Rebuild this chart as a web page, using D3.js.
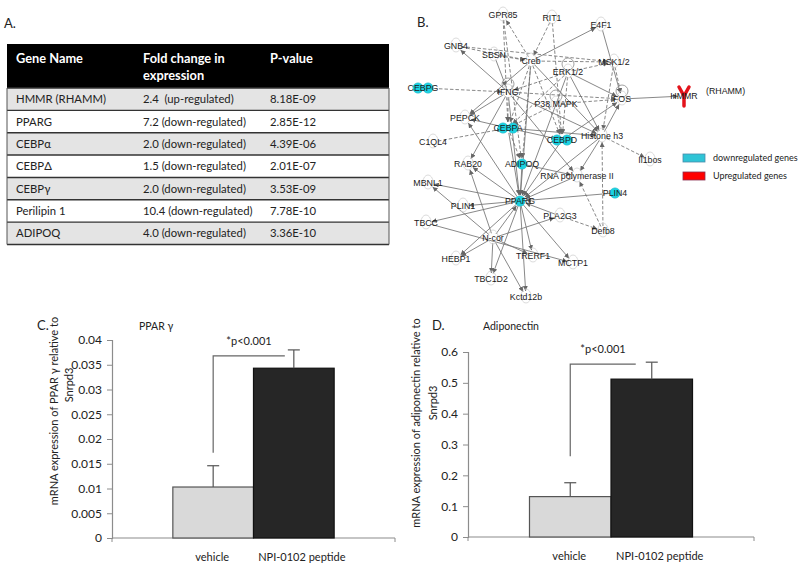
<!DOCTYPE html>
<html>
<head>
<meta charset="utf-8">
<script src="https://cdn.jsdelivr.net/npm/d3@7"></script>
<style>
  html, body { margin: 0; padding: 0; background: #fff; }
  svg { display: block; }
</style>
</head>
<body>
<svg id="fig" width="800" height="567"></svg>
<script>
// ---------------- DATA ----------------
// Panel A table
const tableHeaders = ["Gene Name", "Fold change in|expression", "P-value"];
const geneNames = ["HMMR (RHAMM)", "PPARG", "CEBPα", "CEBPΔ", "CEBPγ", "Perilipin 1", "ADIPOQ"];
const foldChanges = ["2.4  (up-regulated)", "7.2 (down-regulated)", "2.0 (down-regulated)", "1.5 (down-regulated)",
                     "2.0 (down-regulated)", "10.4 (down-regulated)", "4.0 (down-regulated)"];
const pValues = ["8.18E-09", "2.85E-12", "4.39E-06", "2.01E-07", "3.53E-09", "7.78E-10", "3.36E-10"];

// Panel B network
const nodeNames = ["GPR85", "RIT1", "E4F1", "GNB4", "SBSN", "Creb", "MSK1/2", "ERK1/2", "CEBPG", "IFNG",
  "FOS", "HMMR", "P38 MAPK", "PEPCK", "CEBPA", "CEBPD", "Histone h3", "C1QL4", "RAB20", "ADIPOQ",
  "Il1bos", "RNA polymerase II", "MBNL1", "PLIN4", "PPARG", "PLIN1", "TBCC", "PLA2G3", "Defb8", "N-cor",
  "HEBP1", "TRERF1", "MCTP1", "TBC1D2", "Kctd12b"];
const nodeStatus = ["", "", "", "", "", "", "", "", "down", "",
  "", "up", "", "", "down", "down", "", "", "", "down",
  "", "", "", "down", "down", "", "", "", "", "",
  "", "", "", "", ""];
// layout grid (network-layout units)
const nodeLayoutX = [103, 152, 201, 56, 94, 131, 214, 168, 23, 108, 222, 284, 156, 65, 108, 162, 202, 33, 68, 122,
  250, 177, 28, 215, 120, 63, 26, 160, 203, 93, 56, 133, 173, 91, 126];
const nodeLayoutY = [15, 18, 25, 46, 55, 61, 62, 72, 88, 92, 99, 96, 104, 118, 128, 140, 136, 142, 164, 164,
  160, 176, 183, 193, 201, 206, 223, 216, 231, 238, 259, 256, 263, 279, 297];
const selfLoops = ["ERK1/2", "FOS", "P38 MAPK", "IFNG"];
// [source, target, relation: s = direct (solid), d = indirect (dashed)]
const edges = [
  ["Creb","GPR85","d"],["RIT1","Creb","d"],["RIT1","CEBPD","d"],["GPR85","CEBPA","d"],["GPR85","ADIPOQ","d"],
  ["IFNG","GNB4","s"],["GNB4","Creb","d"],["GNB4","MSK1/2","d"],["SBSN","IFNG","s"],["SBSN","Creb","d"],
  ["Creb","E4F1","s"],["Creb","MSK1/2","d"],["Creb","PEPCK","s"],["Creb","CEBPA","d"],["Creb","ADIPOQ","d"],
  ["Creb","Histone h3","s"],["Creb","CEBPD","d"],["Creb","PPARG","s"],["E4F1","FOS","s"],["MSK1/2","FOS","d"],
  ["MSK1/2","Histone h3","d"],["ERK1/2","MSK1/2","d"],["ERK1/2","FOS","s"],["ERK1/2","Histone h3","s"],
  ["ERK1/2","CEBPD","d"],["ERK1/2","CEBPA","d"],["ERK1/2","IFNG","d"],["ERK1/2","PPARG","s"],
  ["CEBPG","IFNG","d"],["IFNG","Histone h3","s"],["IFNG","FOS","d"],["IFNG","PEPCK","s"],
  ["IFNG","RNA polymerase II","s"],["IFNG","PPARG","s"],["IFNG","RAB20","s"],["IFNG","CEBPA","d"],
  ["P38 MAPK","FOS","d"],["P38 MAPK","CEBPA","d"],["P38 MAPK","CEBPD","d"],["FOS","HMMR","s"],
  ["Histone h3","FOS","s"],["CEBPD","FOS","s"],["CEBPA","CEBPD","s"],["CEBPA","Histone h3","s"],
  ["CEBPA","PEPCK","s"],["C1QL4","CEBPA","d"],["CEBPA","PPARG","s"],["CEBPA","ADIPOQ","d"],
  ["CEBPD","PPARG","s"],["Histone h3","Il1bos","d"],["Histone h3","PPARG","s"],["Defb8","Histone h3","d"],
  ["Defb8","RNA polymerase II","d"],["PLA2G3","Defb8","d"],["ADIPOQ","RNA polymerase II","s"],
  ["ADIPOQ","PPARG","s"],["RNA polymerase II","PPARG","s"],["PPARG","RAB20","s"],["PPARG","MBNL1","s"],
  ["PPARG","PLIN1","s"],["PPARG","TBCC","s"],["PLIN4","PPARG","s"],["PLA2G3","PPARG","s"],["N-cor","PPARG","s"],
  ["PPARG","HEBP1","s"],["PPARG","TRERF1","s"],["PPARG","MCTP1","s"],["PPARG","TBC1D2","s"],
  ["PPARG","Kctd12b","s"],["PPARG","PEPCK","s"],["N-cor","RAB20","s"],["N-cor","MBNL1","s"],
  ["TBCC","MCTP1","s"],["N-cor","HEBP1","s"],["N-cor","TBC1D2","s"],["N-cor","TRERF1","s"],
  ["N-cor","Kctd12b","s"],["N-cor","PLA2G3","s"],["Histone h3","RNA polymerase II","s"]
];
const legendLabels = ["downregulated genes", "Upregulated genes"];
const legendKeys = ["down", "up"];

// Panels C and D
const groups = ["vehicle", "NPI-0102 peptide"];
const pparValues = [0.0103, 0.0343];
const pparErrors = [0.0043, 0.0037];
const pparTicks = [0, 0.005, 0.01, 0.015, 0.02, 0.025, 0.03, 0.035, 0.04];
const pparBracket = [0.0172, 0.0368];
const adipoValues = [0.131, 0.512];
const adipoErrors = [0.045, 0.055];
const adipoTicks = [0, 0.1, 0.2, 0.3, 0.4, 0.5, 0.6];
const adipoBracket = [0.262, 0.561];
const significance = "*p<0.001";

// ---------------- DRAW ----------------
const svg = d3.select("#fig");
svg.append("rect").attr("width", 800).attr("height", 567).attr("fill", "#fff");
const chartFont = "Lato, 'Open Sans', sans-serif";
const netFont = "'Liberation Sans', Arial, sans-serif";

// ===== Panel A =====
(function panelA() {
  const g = svg.append("g");
  g.append("text").attr("x", 4).attr("y", 28).text("A.")
    .attr("font-family", chartFont).attr("font-size", 13).attr("fill", "#222");
  const x0 = 7, x1 = 389, headTop = 44, headBot = 88;
  const rowY = d3.scaleLinear().domain([0, geneNames.length]).range([headBot, 244.5]);
  const colX = d3.scaleOrdinal().domain([0, 1, 2]).range([16, 143, 270]);
  g.append("rect").attr("x", x0).attr("y", headTop).attr("width", x1 - x0).attr("height", headBot - headTop)
    .attr("fill", "#000");
  tableHeaders.forEach((h, i) => {
    h.split("|").forEach((line, j) => {
      g.append("text").attr("x", colX(i)).attr("y", 63 + j * 17).text(line)
        .attr("font-family", chartFont).attr("font-weight", "bold").attr("font-size", 12.8).attr("fill", "#fff");
    });
  });
  const rows = geneNames.map((n, i) => [n, foldChanges[i], pValues[i]]);
  const rg = g.selectAll("g.row").data(rows).join("g").attr("class", "row");
  rg.append("rect").attr("x", x0).attr("y", (d, i) => rowY(i)).attr("width", x1 - x0)
    .attr("height", (d, i) => rowY(i + 1) - rowY(i))
    .attr("fill", (d, i) => i % 2 === 0 ? "#e4e4e4" : "#fff");
  rg.each(function (d, i) {
    d3.select(this).selectAll("text").data(d).join("text")
      .attr("x", (t, k) => colX(k)).attr("y", (rowY(i) + rowY(i + 1)) / 2 + 4)
      .text(t => t).attr("font-family", chartFont).attr("font-size", 11.3).attr("fill", "#222")
      .attr("xml:space", "preserve").style("white-space", "pre");
  });
  d3.range(geneNames.length + 1).forEach(i => {
    g.append("line").attr("x1", x0).attr("x2", x1).attr("y1", rowY(i)).attr("y2", rowY(i))
      .attr("stroke", "#333").attr("stroke-width", 1.4);
  });
  [x0, x1].forEach(x => g.append("line").attr("x1", x).attr("x2", x).attr("y1", headBot).attr("y2", rowY(geneNames.length))
    .attr("stroke", "#555").attr("stroke-width", 1));
})();

// ===== Panel B =====
(function panelB() {
  const g = svg.append("g");
  g.append("text").attr("x", 417).attr("y", 27).text("B.")
    .attr("font-family", chartFont).attr("font-size", 13).attr("fill", "#222");
  const sx = d3.scaleLinear().domain([0, 340]).range([400, 740]);
  const sy = d3.scaleLinear().domain([0, 300]).range([0, 300]);
  const pos = {};
  nodeNames.forEach((n, i) => pos[n] = { x: sx(nodeLayoutX[i]), y: sy(nodeLayoutY[i]), status: nodeStatus[i] });
  const colors = { down: "#1ad2e2", up: "#e3131b" };

  const defs = svg.append("defs");
  defs.append("marker").attr("id", "arr").attr("viewBox", "0 -4 8 8").attr("refX", 8).attr("refY", 0)
    .attr("markerWidth", 5).attr("markerHeight", 5).attr("markerUnits", "userSpaceOnUse").attr("orient", "auto")
    .append("path").attr("d", "M0,-4L8,0L0,4Z").attr("fill", "#666");

  const eg = g.append("g");
  edges.forEach(([s, t, type]) => {
    const a = pos[s], b = pos[t];
    const dx = b.x - a.x, dy = b.y - a.y, L = Math.hypot(dx, dy);
    const ux = dx / L, uy = dy / L;
    const s0 = 5, s1 = 6;
    eg.append("line")
      .attr("x1", a.x + ux * s0).attr("y1", a.y + uy * s0)
      .attr("x2", b.x - ux * s1).attr("y2", b.y - uy * s1)
      .attr("stroke", "#737373").attr("stroke-width", 0.85)
      .attr("stroke-dasharray", type === "d" ? "3.5,2" : null)
      .attr("marker-end", "url(#arr)");
  });
  selfLoops.forEach(n => {
    const p = pos[n];
    eg.append("circle").attr("cx", p.x).attr("cy", p.y - 8).attr("r", 6)
      .attr("fill", "none").attr("stroke", "#8a8a8a").attr("stroke-width", 0.8);
  });

  const ng = g.append("g");
  nodeNames.forEach(n => {
    const p = pos[n];
    if (p.status === "down") {
      const dimer = ["CEBPG", "CEBPA", "CEBPD"].includes(n);
      const offs = dimer ? [-5, 5] : [0];
      offs.forEach(o => ng.append("circle").attr("cx", p.x + o).attr("cy", p.y).attr("r", 5.2)
        .attr("fill", colors.down).attr("stroke", "#3bb6c4").attr("stroke-width", 0.5));
    } else if (p.status === "up") {
      ng.append("path")
        .attr("d", `M${p.x - 5},${p.y - 9} L${p.x},${p.y} L${p.x + 5},${p.y - 9} M${p.x},${p.y} L${p.x},${p.y + 10}`)
        .attr("fill", "none").attr("stroke", colors.up).attr("stroke-width", 3.5).attr("stroke-linecap", "round");
    } else {
      ng.append("ellipse").attr("cx", p.x).attr("cy", p.y - 1).attr("rx", 5).attr("ry", 7)
        .attr("fill", "none").attr("stroke", "#d0d0d0").attr("stroke-width", 0.8);
    }
  });
  nodeNames.forEach(n => {
    const p = pos[n];
    g.append("text").attr("x", p.x).attr("y", p.y + 3.2).attr("text-anchor", "middle").text(n)
      .attr("font-family", netFont).attr("font-size", 8.8).attr("fill", "#1a1a1a");
  });
  g.append("text").attr("x", 706).attr("y", 94).text("(RHAMM)")
    .attr("font-family", netFont).attr("font-size", 8.8).attr("fill", "#1a1a1a");

  legendLabels.forEach((lab, i) => {
    const y = 154 + i * 18;
    g.append("rect").attr("x", 683).attr("y", y).attr("width", 22).attr("height", 8)
      .attr("fill", legendKeys[i] === "down" ? "#2fc4d6" : "#ff0000")
      .attr("stroke", legendKeys[i] === "down" ? "#4a8caa" : "#8a3050").attr("stroke-width", 0.8);
    g.append("text").attr("x", 713).attr("y", y + 7).text(lab)
      .attr("font-family", chartFont).attr("font-size", 9).attr("fill", "#222");
  });
})();

// ===== Bar charts =====
function barChart(opts) {
  const g = svg.append("g");
  const y = d3.scaleLinear().domain([0, opts.ticks[opts.ticks.length - 1]]).range([opts.y0, opts.y1]);
  const w = opts.xr - opts.xl;
  const x = d3.scaleBand().domain(groups).range([opts.xl + w * 0.215, opts.xr - w * 0.215]).padding(0);
  const ya = d3.axisLeft(y).tickValues(opts.ticks).tickSize(5).tickPadding(5)
    .tickFormat(d => String(+d.toFixed(4)));
  const yg = g.append("g").attr("transform", `translate(${opts.xl},0)`).call(ya);
  yg.select(".domain").attr("stroke", "#8c8c8c").attr("stroke-width", 1.2);
  yg.selectAll(".tick line").attr("stroke", "#8c8c8c");
  yg.selectAll(".tick text").attr("font-family", chartFont).attr("font-size", 12).attr("fill", "#222");
  g.append("line").attr("x1", opts.xl).attr("x2", opts.xr).attr("y1", opts.y0).attr("y2", opts.y0)
    .attr("stroke", "#8c8c8c").attr("stroke-width", 1.2);
  [opts.xl, opts.xr].forEach(xx => g.append("line").attr("x1", xx).attr("x2", xx)
    .attr("y1", opts.y0).attr("y2", opts.y0 + 4).attr("stroke", "#8c8c8c"));
  const fills = ["#d9d9d9", "#262626"];
  const strokes = ["#555", "#111"];
  g.selectAll("rect.bar").data(opts.values).join("rect").attr("class", "bar")
    .attr("x", (d, i) => x(groups[i])).attr("width", x.bandwidth())
    .attr("y", d => y(d)).attr("height", d => opts.y0 - y(d))
    .attr("fill", (d, i) => fills[i]).attr("stroke", (d, i) => strokes[i]).attr("stroke-width", 1.2);
  opts.values.forEach((v, i) => {
    const cx = x(groups[i]) + x.bandwidth() / 2;
    const top = y(v + opts.errors[i]);
    g.append("line").attr("x1", cx).attr("x2", cx).attr("y1", y(v)).attr("y2", top)
      .attr("stroke", "#555").attr("stroke-width", 1.2);
    g.append("line").attr("x1", cx - 6).attr("x2", cx + 6).attr("y1", top).attr("y2", top)
      .attr("stroke", "#555").attr("stroke-width", 1.2);
  });
  const bx = x(groups[0]) + x.bandwidth() / 2;
  const bx2 = x(groups[1]) + x.bandwidth() / 2 - opts.bracketInset;
  g.append("path")
    .attr("d", `M${bx},${y(opts.bracket[0])} L${bx},${y(opts.bracket[1])} L${bx2},${y(opts.bracket[1])}`)
    .attr("fill", "none").attr("stroke", "#666").attr("stroke-width", 1.2);
  g.append("text").attr("x", (bx + bx2) / 2 + opts.sigDx).attr("y", y(opts.bracket[1]) - 11)
    .attr("text-anchor", "middle").text(significance)
    .attr("font-family", chartFont).attr("font-size", 11).attr("fill", "#222");
  groups.forEach((gr, i) => {
    g.append("text").attr("x", x(gr) + x.bandwidth() / 2 + (i === 1 ? 8 : -1)).attr("y", opts.y0 + 23)
      .attr("text-anchor", "middle").text(gr)
      .attr("font-family", chartFont).attr("font-size", 11).attr("fill", "#222");
  });
  g.append("text").attr("x", opts.letterX).attr("y", 330).text(opts.letter)
    .attr("font-family", chartFont).attr("font-size", 13).attr("fill", "#222");
  g.append("text").attr("x", opts.titleX).attr("y", 330).text(opts.title)
    .attr("font-family", chartFont).attr("font-size", 10.5).attr("fill", "#222");
  opts.ytitle.forEach((t, k) => {
    g.append("text").attr("transform", `translate(${opts.ytX[k]},${opts.ytY[k]}) rotate(-90)`)
      .attr("text-anchor", "middle").attr("dominant-baseline", "central").text(t)
      .attr("font-family", chartFont).attr("font-size", 11).attr("fill", "#222");
  });
}

barChart({
  values: pparValues, errors: pparErrors, ticks: pparTicks, bracket: pparBracket,
  xl: 112, xr: 395, y0: 538, y1: 340, bracketInset: 9, sigDx: 0,
  letter: "C.", letterX: 37, title: "PPAR γ", titleX: 139,
  ytitle: ["mRNA expression of PPAR γ relative to", "Snrpd3"], ytX: [53, 68], ytY: [411, 385]
});
barChart({
  values: adipoValues, errors: adipoErrors, ticks: adipoTicks, bracket: adipoBracket,
  xl: 468, xr: 754, y0: 537, y1: 352, bracketInset: 16, sigDx: 0,
  letter: "D.", letterX: 432, title: "Adiponectin", titleX: 483,
  ytitle: ["mRNA expression of adiponectin relative to", "Snrpd3"], ytX: [415, 432], ytY: [423, 403]
});
</script>
</body>
</html>
